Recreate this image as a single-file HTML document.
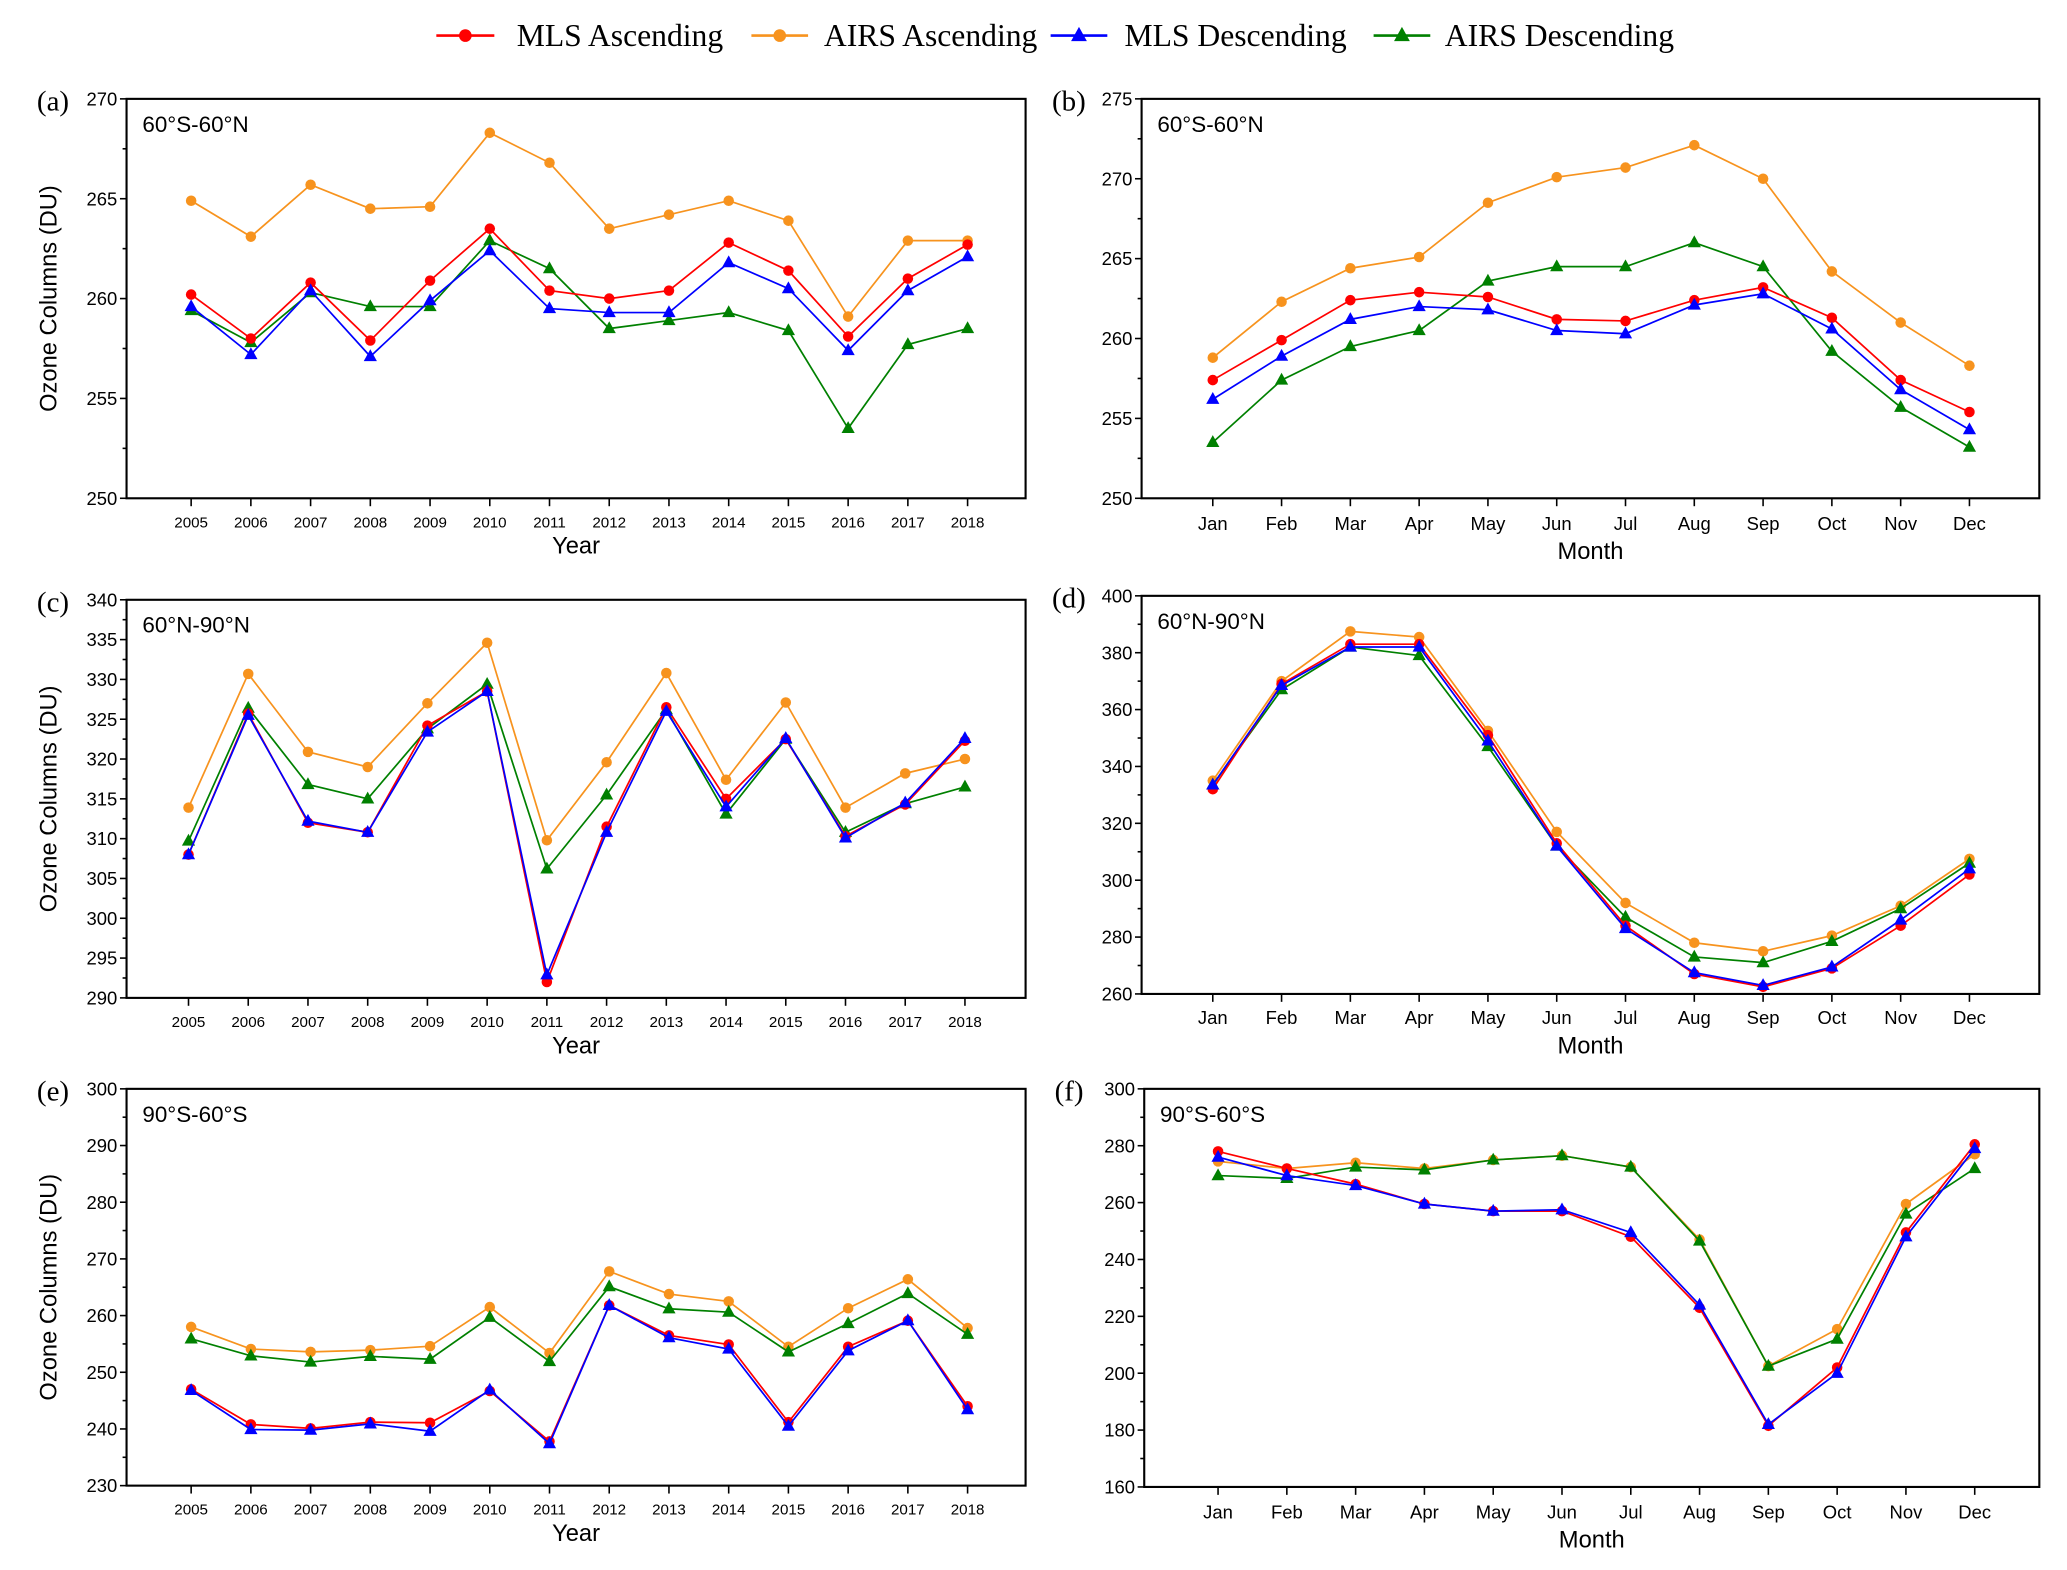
<!DOCTYPE html>
<html><head><meta charset="utf-8"><style>
html,body{margin:0;padding:0;background:#fff;}
svg{display:block;}
</style></head><body>
<svg id="s" xmlns="http://www.w3.org/2000/svg" width="2067" height="1570" viewBox="0 0 1568 1191" preserveAspectRatio="none"></svg>
<script>
const C={r:'#ff0000',o:'#f7931e',b:'#0000ff',g:'#008000'};
let h='';
function el(s){h+=s;}
// legend
const leg=[[331,375,'r','c','MLS Ascending',392],[570,613,'o','c','AIRS Ascending',625],[797,840,'b','t','MLS Descending',853],[1042,1085,'g','t','AIRS Descending',1096]];
function mk(x,y,col,t,s){s=s||1;
 if(t=='c') return `<circle cx="${x}" cy="${y}" r="${4*s}" fill="${C[col]}"/>`;
 return `<polygon points="${x},${y-5.5*s} ${x-5*s},${y+3.5*s} ${x+5*s},${y+3.5*s}" fill="${C[col]}"/>`;}
leg.forEach(l=>{el(`<line x1="${l[0]}" y1="27" x2="${l[1]}" y2="27" stroke="${C[l[2]]}" stroke-width="2"/>`);
 el(mk((l[0]+l[1])/2,27,l[2],l[3],1.2));
 el(`<text x="${l[5]}" y="35" font-family="Liberation Serif,serif" font-size="24">${l[4]}</text>`);});
const yrs=[2005,2006,2007,2008,2009,2010,2011,2012,2013,2014,2015,2016,2017,2018];
const mon=['Jan','Feb','Mar','Apr','May','Jun','Jul','Aug','Sep','Oct','Nov','Dec'];
const P=[
{id:'(a)',reg:'60°S-60°N',x0:96,x1:778,y0:75,y1:378,lo:250,hi:270,st:5,cats:yrs,c0:145,c1:734,xl:'Year',tly:395,xly:420,
d:[[260.2,258.0,260.8,257.9,260.9,263.5,260.4,260.0,260.4,262.8,261.4,258.1,261.0,262.7],
[264.9,263.1,265.7,264.5,264.6,268.3,266.8,263.5,264.2,264.9,263.9,259.1,262.9,262.9],
[259.6,257.2,260.4,257.1,259.9,262.4,259.5,259.3,259.3,261.8,260.5,257.4,260.4,262.1],
[259.4,257.8,260.3,259.6,259.6,262.9,261.5,258.5,258.9,259.3,258.4,253.5,257.7,258.5]]},
{id:'(b)',reg:'60°S-60°N',x0:866,x1:1547,y0:75,y1:378,lo:250,hi:275,st:5,cats:mon,c0:920,c1:1494,xl:'Month',tly:397,xly:424,
d:[[257.4,259.9,262.4,262.9,262.6,261.2,261.1,262.4,263.2,261.3,257.4,255.4],
[258.8,262.3,264.4,265.1,268.5,270.1,270.7,272.1,270.0,264.2,261.0,258.3],
[256.2,258.9,261.2,262.0,261.8,260.5,260.3,262.1,262.8,260.6,256.8,254.3],
[253.5,257.4,259.5,260.5,263.6,264.5,264.5,266.0,264.5,259.2,255.7,253.2]]},
{id:'(c)',reg:'60°N-90°N',x0:96,x1:778,y0:455,y1:757,lo:290,hi:340,st:5,cats:yrs,c0:143,c1:732,xl:'Year',tly:774,xly:799,
d:[[308,325.7,312,310.8,324.2,328.5,292,311.5,326.5,315,322.5,310.3,314.3,322.3],
[313.9,330.7,320.9,319,327,334.6,309.8,319.6,330.8,317.4,327.1,313.9,318.2,320],
[308,325.5,312.2,310.8,323.4,328.5,292.9,310.8,326,314,322.6,310.1,314.5,322.6],
[309.7,326.4,316.8,315,323.8,329.4,306.2,315.5,326.2,313.1,322.5,310.8,314.4,316.5]]},
{id:'(d)',reg:'60°N-90°N',x0:866,x1:1547,y0:452,y1:754,lo:260,hi:400,st:20,cats:mon,c0:920,c1:1494,xl:'Month',tly:772,xly:799,
d:[[332,369,383,383,351,313,284,267,262.5,269,284,302],
[335,370,387.5,385.5,352.5,317,292,278,275,280.5,291,307.5],
[333.5,368.5,382,382,349,312,283,267.5,263,269.5,286,304],
[333.5,367,382,379,347,312,287,273,271,278.5,290,306]]},
{id:'(e)',reg:'90°S-60°S',x0:96,x1:778,y0:826,y1:1127,lo:230,hi:300,st:10,cats:yrs,c0:145,c1:734,xl:'Year',tly:1144,xly:1169,
d:[[247,240.8,240.1,241.2,241.1,246.7,237.8,261.8,256.5,254.9,241.2,254.5,259.1,244],
[258,254.1,253.6,253.9,254.6,261.5,253.4,267.8,263.8,262.5,254.5,261.3,266.4,257.8],
[246.8,239.9,239.8,240.9,239.6,246.9,237.4,261.8,256.1,254.1,240.5,253.8,259.1,243.4],
[255.9,252.9,251.8,252.8,252.3,259.7,251.9,265.1,261.2,260.6,253.6,258.6,263.9,256.7]]},
{id:'(f)',reg:'90°S-60°S',x0:868,x1:1547,y0:826,y1:1128,lo:160,hi:300,st:20,cats:mon,c0:924,c1:1498,xl:'Month',tly:1147,xly:1174,
d:[[278,272,266.5,259.5,257,257,248,223,181.5,202,249.5,280.5],
[274.5,272,274,272,275,276.5,272.5,247,202.5,215.5,259.5,277],
[276,269.5,266,259.5,257,257.5,249.5,224,182,200,248,279],
[269.5,268.5,272.5,271.5,275,276.5,272.5,246.5,202.5,212,256,272]]}
];
const ser=[['r','c'],['o','c'],['b','t'],['g','t']];
const F='font-family="Liberation Sans,sans-serif"';
P.forEach(p=>{
 const Y=v=>p.y1-(v-p.lo)/(p.hi-p.lo)*(p.y1-p.y0);
 const n=p.cats.length, X=i=>p.c0+i*(p.c1-p.c0)/(n-1);
 el(`<rect x="${p.x0}" y="${p.y0}" width="${p.x1-p.x0}" height="${p.y1-p.y0}" fill="none" stroke="#000" stroke-width="1.6"/>`);
 for(let v=p.lo;v<=p.hi+1e-6;v+=p.st/2){const y=Y(v);const maj=Math.abs(((v-p.lo)/p.st)-Math.round((v-p.lo)/p.st))<1e-6;
  el(`<line x1="${p.x0-(maj?5:3)}" y1="${y}" x2="${p.x0}" y2="${y}" stroke="#000" stroke-width="1.2"/>`);
  if(maj) el(`<text x="${p.x0-7}" y="${y+5}" text-anchor="end" ${F} font-size="14">${v}</text>`);}
 p.cats.forEach((c,i)=>{const x=X(i);el(`<line x1="${x}" y1="${p.y1}" x2="${x}" y2="${p.y1+6}" stroke="#000" stroke-width="1.2"/>`);
  el(`<text x="${x}" y="${p.tly+5}" text-anchor="middle" ${F} font-size="${n==14?11.5:14}">${c}</text>`);});
 el(`<text x="${(p.x0+p.x1)/2}" y="${p.xly}" text-anchor="middle" ${F} font-size="18">${p.xl}</text>`);
 el(`<text x="${p.x0-68}" y="${p.y0+9}" font-family="Liberation Serif,serif" font-size="22">${p.id}</text>`);
 el(`<text x="${p.x0+12}" y="${p.y0+25}" ${F} font-size="17">${p.reg}</text>`);
 if(p.x0<200){const cy=(p.y0+p.y1)/2;el(`<text transform="translate(43,${cy}) rotate(-90)" text-anchor="middle" ${F} font-size="18">Ozone Columns (DU)</text>`);}
 [1,3,0,2].forEach(k=>{const d=p.d[k];const pts=d.map((v,i)=>X(i)+','+Y(v)).join(' ');
  el(`<polyline points="${pts}" fill="none" stroke="${C[ser[k][0]]}" stroke-width="1.3"/>`);
  d.forEach((v,i)=>el(mk(X(i),Y(v),ser[k][0],ser[k][1])));});
});
document.getElementById('s').innerHTML=h;
</script>
</body></html>
